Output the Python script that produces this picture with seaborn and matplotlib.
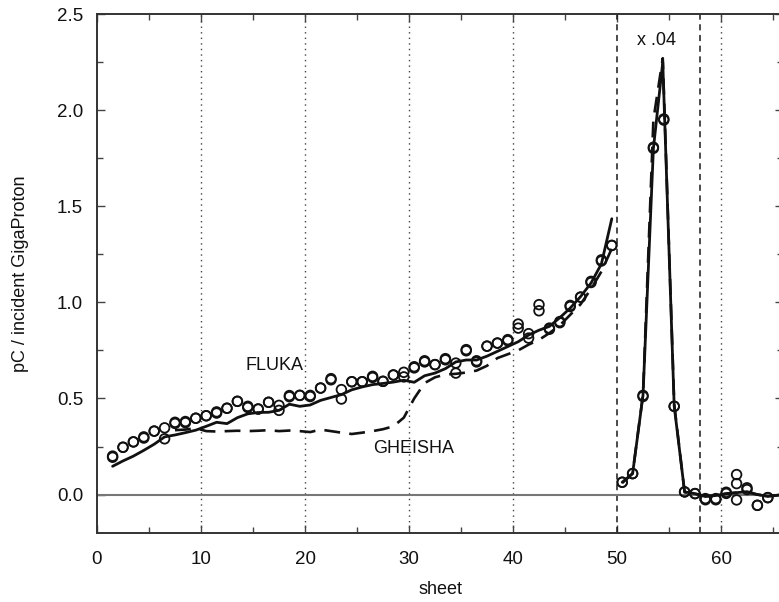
import matplotlib
matplotlib.use("Agg")
import matplotlib.pyplot as plt
from matplotlib.ticker import MultipleLocator
import seaborn as sns
import numpy as np

# sheet positions of the measured points (centre of each sheet)
sheet = np.arange(1, 65) + 0.5

# measured charge, two overlapping runs
meas_a = [0.200, 0.246, 0.274, 0.300, 0.330, 0.347, 0.376, 0.380, 0.397, 0.410,
          0.430, 0.449, 0.485, 0.459, 0.445, 0.480, 0.464, 0.515, 0.516, 0.516,
          0.554, 0.603, 0.546, 0.587, 0.587, 0.615, 0.589, 0.622, 0.636, 0.665,
          0.696, 0.676, 0.707, 0.684, 0.754, 0.696, 0.772, 0.788, 0.806, 0.887,
          0.837, 0.988, 0.866, 0.900, 0.984, 1.027, 1.109, 1.221, 1.296,
          0.064, 0.109, 0.516, 1.807, 1.954, 0.459, 0.014, 0.005, -0.021, -0.021,
          0.012, 0.104, 0.035, -0.056, -0.016]
meas_b = [0.194, 0.246, 0.274, 0.294, 0.330, 0.290, 0.370, 0.374, 0.397, 0.410,
          0.424, 0.449, 0.485, 0.453, 0.445, 0.480, 0.438, 0.509, 0.516, 0.510,
          0.554, 0.597, 0.497, 0.587, 0.587, 0.609, 0.589, 0.622, 0.612, 0.659,
          0.690, 0.676, 0.701, 0.632, 0.748, 0.690, 0.772, 0.788, 0.800, 0.866,
          0.814, 0.956, 0.860, 0.894, 0.978, 1.027, 1.103, 1.215, 1.296,
          0.064, 0.109, 0.510, 1.801, 1.948, 0.459, 0.014, 0.005, -0.027, -0.027,
          0.006, -0.028, 0.026, -0.056, -0.016]
extra_sheet = [61.5]
extra_pc = [0.057]

# FLUKA simulation, sheets 1..49
fluka = [0.147, 0.175, 0.200, 0.230, 0.262, 0.300, 0.310, 0.322, 0.335, 0.355,
         0.376, 0.369, 0.400, 0.420, 0.427, 0.428, 0.438, 0.470, 0.459, 0.466,
         0.490, 0.505, 0.520, 0.545, 0.560, 0.572, 0.578, 0.585, 0.595, 0.584,
         0.618, 0.632, 0.655, 0.690, 0.700, 0.700, 0.720, 0.745, 0.770, 0.795,
         0.830, 0.855, 0.875, 0.920, 0.970, 1.030, 1.100, 1.200, 1.435]
# GHEISHA simulation, sheets 7..49
gheisha = [0.335, 0.338, 0.345, 0.330, 0.328, 0.330, 0.332, 0.330, 0.332, 0.335,
           0.330, 0.333, 0.330, 0.325, 0.338, 0.330, 0.322, 0.315, 0.322, 0.330,
           0.340, 0.355, 0.400, 0.500, 0.580, 0.610, 0.625, 0.628, 0.635, 0.645,
           0.670, 0.710, 0.730, 0.750, 0.780, 0.805, 0.840, 0.880, 0.935, 0.990,
           1.070, 1.160, 1.280]

# peak region (scaled x .04) and the sheets behind it
peak_x = [50.5, 51.5, 52.5, 53.5, 54.4, 55.5, 56.5, 57.5, 58.5, 59.5, 60.5,
          61.5, 62.5, 63.5, 64.5, 66.0]
fluka_peak = [0.064, 0.109, 0.516, 1.80, 2.25, 0.46, 0.014, 0.005, -0.010,
              -0.005, 0.005, 0.010, 0.015, 0.000, -0.010, 0.000]
gheisha_peak = [0.060, 0.110, 0.520, 1.95, 2.27, 0.47, 0.012, 0.004, -0.008,
                -0.004, 0.004, 0.010, 0.012, 0.000, -0.008, 0.000]

sns.set_style("ticks")
plt.rcParams["font.family"] = ["Liberation Sans", "DejaVu Sans"]

fig = plt.figure(figsize=(7.79, 6.02), dpi=100)
ax = fig.add_axes([97 / 779, 69 / 602, 686.4 / 779, 519 / 602])

ink = "#111111"

# reference lines
for xv in [10, 20, 30, 40, 60]:
    ax.axvline(xv, color="#444444", lw=1.0, ls=(0, (1, 3)), zorder=1)
for xv in [50, 58]:
    ax.axvline(xv, color="#1a1a1a", lw=1.1, ls=(0, (4, 3)), zorder=1)
ax.axhline(0, color="#777777", lw=1.5, zorder=1)

# simulations
sns.lineplot(x=sheet[:49], y=fluka, sort=False, estimator=None, color=ink,
             lw=2.0, ax=ax)
sns.lineplot(x=sheet[6:49], y=gheisha, sort=False, estimator=None, color=ink,
             lw=1.9, linestyle=(0, (6, 3.5)), ax=ax)
sns.lineplot(x=peak_x, y=gheisha_peak, sort=False, estimator=None, color=ink,
             lw=1.9, linestyle=(0, (6, 3.5)), ax=ax)
sns.lineplot(x=peak_x, y=fluka_peak, sort=False, estimator=None, color=ink,
             lw=2.0, ax=ax)

# measurements
for vals in (meas_a, meas_b):
    sns.scatterplot(x=sheet, y=vals, marker="o", s=48, facecolor="none",
                    edgecolor=ink, linewidth=1.3, ax=ax, zorder=3)
sns.scatterplot(x=extra_sheet, y=extra_pc, marker="o", s=48, facecolor="none",
                edgecolor=ink, linewidth=1.3, ax=ax, zorder=3)

ax.text(17.1, 0.67, "FLUKA", fontsize=13, ha="center", va="center", color=ink)
ax.text(30.4, 0.24, "GHEISHA", fontsize=13, ha="center", va="center", color=ink)
ax.text(53.8, 2.36, "x .04", fontsize=13, ha="center", va="center", color=ink)

ax.set_xlim(0, 66)
ax.set_ylim(-0.2, 2.5)
ax.xaxis.set_major_locator(MultipleLocator(10))
ax.xaxis.set_minor_locator(MultipleLocator(5))
ax.yaxis.set_major_locator(MultipleLocator(0.5))
ax.yaxis.set_minor_locator(MultipleLocator(0.25))
ax.set_yticks(np.arange(0, 2.51, 0.5))
ax.set_yticklabels([f"{v:.1f}" for v in np.arange(0, 2.51, 0.5)])
ax.tick_params(which="both", direction="in", top=True, right=True,
               color="#444444", labelsize=13.5, labelcolor=ink)
ax.tick_params(axis="x", pad=13)
ax.tick_params(axis="y", pad=10)
ax.tick_params(which="major", length=6, width=1)
ax.tick_params(which="minor", length=4, width=1)
for sp in ax.spines.values():
    sp.set_color("#333333")
    sp.set_linewidth(1.4)

ax.set_xlabel("sheet", fontsize=13, labelpad=9, color=ink)
ax.set_ylabel("pC / incident GigaProton", fontsize=13, labelpad=20, color=ink)

fig.savefig("out.png", dpi=100)
